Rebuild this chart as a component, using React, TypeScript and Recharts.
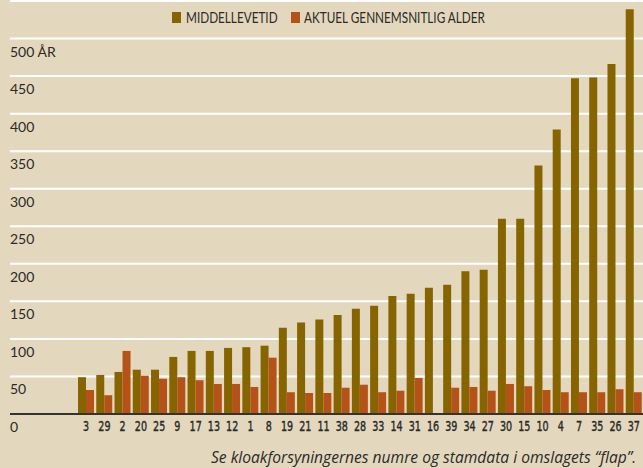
import { BarChart, Bar, XAxis, YAxis, CartesianGrid } from 'recharts';

const categories = ['3', '29', '2', '20', '25', '9', '17', '13', '12', '1', '8', '19', '21', '11', '38', '28', '33', '14', '31', '16', '39', '34', '27', '30', '15', '10', '4', '7', '35', '26', '37'];
const middellevetid = [49, 52, 56, 59, 59, 76, 84, 84, 88, 89, 91, 115, 122, 126, 132, 140, 144, 157, 160, 168, 172, 190, 192, 260, 260, 331, 379, 447, 448, 466, 539];
const aktuelAlder = [32, 25, 84, 51, 47, 49, 45, 40, 40, 36, 75, 29, 28, 28, 35, 39, 29, 31, 48, 0, 35, 36, 31, 40, 37, 32, 29, 29, 29, 33, 29];
const yTicks = [0, 50, 100, 150, 200, 250, 300, 350, 400, 450, 500];

const data = categories.map((name, i) => ({
  name,
  middel: middellevetid[i],
  aktuel: aktuelAlder[i],
}));

const OLIVE = '#866500';
const ORANGE = '#b55218';
const BG = '#e3d8bd';
const TEXT = '#2b2a28';
const FONT = 'Lato, "Open Sans", sans-serif';

const YTick = (props: any) => {
  const { y, payload } = props;
  const label = payload.value === 500 ? '500 ÅR' : String(payload.value);
  return (
    <text x={10} y={y + 18} fill={TEXT} fontSize={14} fontFamily={FONT} textAnchor="start">
      {label}
    </text>
  );
};

const XTick = (props: any) => {
  const { x, y, payload } = props;
  return (
    <text
      x={x}
      y={y + 9}
      fill={TEXT}
      stroke={TEXT}
      strokeWidth={0.4}
      fontSize={14}
      fontFamily={'"DejaVu Sans Condensed", Lato, sans-serif'}
      textAnchor="middle"
      transform={`translate(${x} 0) scale(0.76 1) translate(${-x} 0)`}
    >
      {payload.value}
    </text>
  );
};

const Legend = () => (
  <div
    style={{
      position: 'absolute',
      left: 172,
      top: 9,
      display: 'flex',
      alignItems: 'center',
      fontFamily: FONT,
      fontSize: 14.5,
      color: TEXT,
      whiteSpace: 'nowrap',
    }}
  >
    <span style={{ width: 9, height: 11, background: OLIVE, display: 'inline-block', marginRight: 5 }} />
    <span style={{ display: 'inline-block', width: 92, overflow: 'visible' }}>
      <span style={{ display: 'inline-block', transform: 'scaleX(0.81)', transformOrigin: 'left center' }}>MIDDELLEVETID</span>
    </span>
    <span style={{ width: 9, height: 11, background: ORANGE, display: 'inline-block', marginLeft: 13, marginRight: 4 }} />
    <span style={{ display: 'inline-block', transform: 'scaleX(0.81)', transformOrigin: 'left center' }}>AKTUEL GENNEMSNITLIG ALDER</span>
  </div>
);

export default function App() {
  return (
    <div style={{ position: 'fixed', left: 0, top: 0, width: 643, height: 468, background: BG }}>
      <BarChart
        width={643}
        height={468}
        data={data}
        margin={{ top: 1, right: 0, bottom: 0, left: 9 }}
        barGap={0}
        barSize={8}
      >
        <CartesianGrid vertical={false} stroke="#ffffff" strokeWidth={2} />
        <XAxis
          dataKey="name"
          height={54}
          padding={{ left: 67, right: 0 }}
          axisLine={{ stroke: '#333333', strokeWidth: 2 }}
          tickLine={false}
          tick={<XTick />}
          interval={0}
        />
        <YAxis
          width={1}
          domain={[0, 550]}
          ticks={yTicks}
          axisLine={false}
          tickLine={false}
          tick={<YTick />}
          interval={0}
        />
        <Bar dataKey="middel" fill={OLIVE} isAnimationActive={false} />
        <Bar dataKey="aktuel" fill={ORANGE} isAnimationActive={false} />
      </BarChart>
      <Legend />
      <div
        style={{
          position: 'absolute',
          left: 211,
          top: 446,
          fontFamily: '"Open Sans", Lato, sans-serif',
          fontStyle: 'italic',
          fontSize: 15.6,
          color: TEXT,
          whiteSpace: 'nowrap',
        }}
      >
        Se kloakforsyningernes numre og stamdata i omslagets “flap”.
      </div>
    </div>
  );
}
